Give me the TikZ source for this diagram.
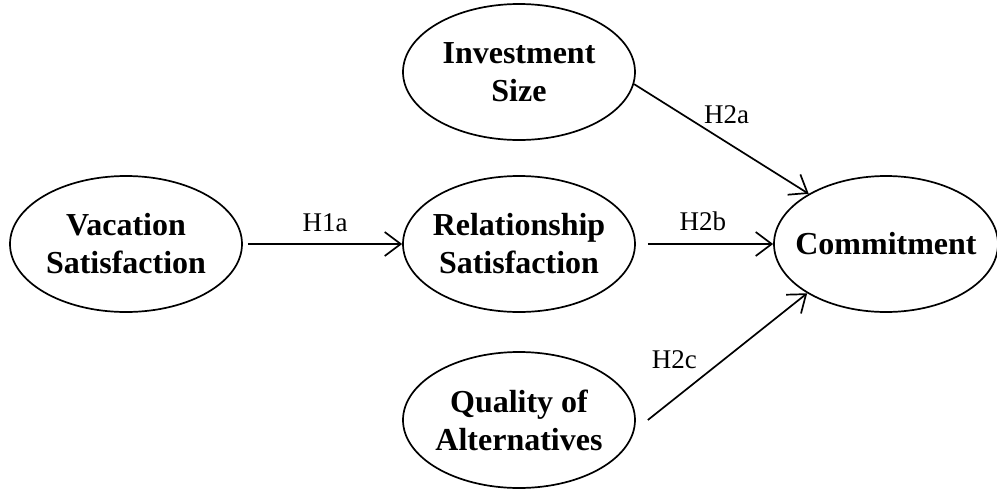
\documentclass[tikz,border=0pt]{standalone}
\usepackage{fontspec}
\setmainfont{Liberation Serif}
\usetikzlibrary{shapes.geometric,arrows.meta}
\begin{document}
\begin{tikzpicture}[x=1pt,y=-1pt,
    construct/.style={draw, ellipse, line width=1.7pt, minimum width=232pt, minimum height=136pt,
        inner xsep=-20pt, inner ysep=0pt, align=center, font=\fontsize{32}{38}\selectfont\bfseries},
    hyp/.style={line width=1.7pt, -{Straight Barb[length=16pt,width=24pt]}},
    hlabel/.style={font=\fontsize{27}{30}\selectfont, inner sep=4pt}]
    \useasboundingbox (0,0) rectangle (997,488);
    % constructs
    \node[construct] (vac) at (126,244) {Vacation\\Satisfaction};
    \node[construct] (inv) at (519,72) {Investment\\Size};
    \node[construct] (rel) at (519,244) {Relationship\\Satisfaction};
    \node[construct] (alt) at (519,420) {Quality of\\Alternatives};
    \node[construct, minimum width=224pt] (com) at (886,244) {Commitment};

    % hypotheses
    \draw[hyp] ([xshift=5pt]vac.east) -- node[hlabel, above=7pt] {H1a} (rel.west);
    \draw[hyp] (inv.-6) -- node[hlabel, above=14pt, pos=0.53] {H2a} (com.147);
    \draw[hyp] ([xshift=12pt]rel.east) -- node[hlabel, above=8pt, pos=0.44] {H2b} (com.west);
    \draw[hyp] ([xshift=12pt]alt.east) -- node[hlabel, above left=2pt, pos=0.35] {H2c} (com.212);
\end{tikzpicture}
\end{document}
